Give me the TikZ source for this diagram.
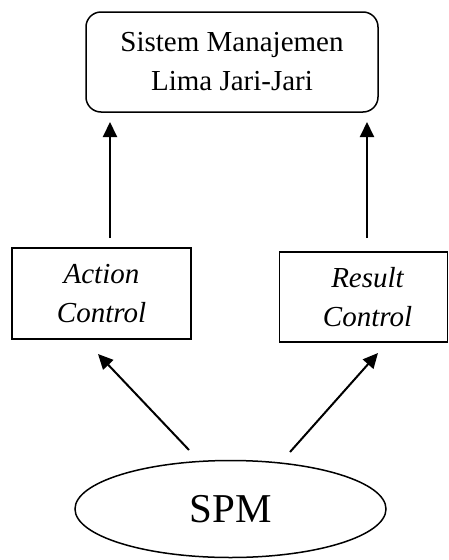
\documentclass[tikz,border=0pt]{standalone}
\usepackage{fontspec}
\setmainfont{Liberation Serif}
\usetikzlibrary{shapes.geometric,arrows.meta}
\begin{document}
\begin{tikzpicture}[x=1pt,y=-1pt,
  label font/.style={font=\fontsize{29}{39}\selectfont},
  sysbox/.style={draw,line width=1.5pt,rounded corners=15pt,minimum width=292pt,minimum height=100pt,inner sep=0pt,align=center,label font},
  ctrlbox/.style={draw,line width=1.5pt,inner sep=0pt,align=center,label font},
  spmnode/.style={draw,ellipse,line width=1.5pt,minimum width=311pt,minimum height=97pt,inner sep=0pt,font=\fontsize{41}{45}\selectfont},
  flow/.style={line width=2pt,-{Triangle[length=15pt,width=14pt]}}]
\useasboundingbox (0,0) rectangle (449,560);
\node[sysbox] (sys) at (232,62) {Sistem Manajemen\\Lima Jari-Jari};
\node[ctrlbox,minimum width=179pt,minimum height=91pt] (act) at (101.5,293.5) {\itshape Action\\\itshape Control};
\node[ctrlbox,minimum width=168pt,minimum height=90pt] (res) at (363.5,297) {\itshape \hspace*{8pt}Result\\\itshape \hspace*{8pt}Control};
\node[spmnode] (spm) at (230.5,509) {SPM};
% connector end points
\coordinate (actTop) at (110,238);
\coordinate (sysL) at (110,122);
\coordinate (resTop) at (367,238);
\coordinate (sysR) at (367,122);
\coordinate (spmL) at (189,450);
\coordinate (actBot) at (98,354);
\coordinate (spmR) at (290,452);
\coordinate (resBot) at (378,353);
\draw[flow] (actTop) -- (sysL);
\draw[flow] (resTop) -- (sysR);
\draw[flow] (spmL) -- (actBot);
\draw[flow] (spmR) -- (resBot);
\end{tikzpicture}
\end{document}
